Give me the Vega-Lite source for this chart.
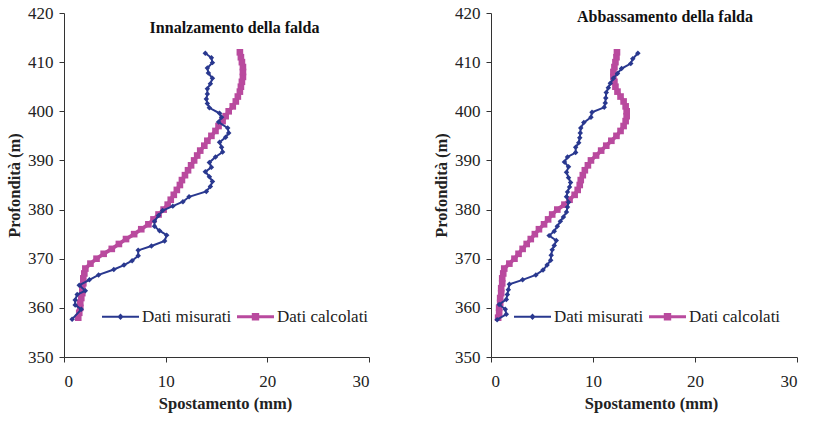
{
 "$schema": "https://vega.github.io/schema/vega-lite/v6.json",
 "background": "white",
 "padding": {"left": 6, "top": 4, "right": 3, "bottom": 5},
 "spacing": 63,
 "config": {
  "view": {"stroke": null},
  "axis": {"grid": false, "domainColor": "#333333", "tickColor": "#333333", "tickSize": 5, "labelFont": "Liberation Serif", "labelFontSize": 17, "labelColor": "#222222", "titleFont": "Liberation Serif", "titleFontSize": 16.5, "titleFontWeight": "bold", "titleColor": "#222222"},
  "legend": {"labelFont": "Liberation Serif", "labelFontSize": 17, "labelColor": "#222222"}
 },
 "resolve": {"scale": {"color": "independent", "shape": "independent"}, "legend": {"color": "independent", "shape": "independent"}},
 "data": {"values": [
  {"p":"L","s":"Dati misurati","d":411.8,"x":13.9},{"p":"L","s":"Dati misurati","d":410.9,"x":14.5},{"p":"L","s":"Dati misurati","d":409.9,"x":14.6},{"p":"L","s":"Dati misurati","d":408.8,"x":14.1},{"p":"L","s":"Dati misurati","d":407.8,"x":14.2},{"p":"L","s":"Dati misurati","d":406.7,"x":14.6},{"p":"L","s":"Dati misurati","d":405.6,"x":14.4},{"p":"L","s":"Dati misurati","d":404.6,"x":14.1},{"p":"L","s":"Dati misurati","d":403.5,"x":14.1},{"p":"L","s":"Dati misurati","d":402.5,"x":14.0},{"p":"L","s":"Dati misurati","d":401.6,"x":14.1},{"p":"L","s":"Dati misurati","d":400.7,"x":14.3},{"p":"L","s":"Dati misurati","d":399.6,"x":15.3},{"p":"L","s":"Dati misurati","d":398.8,"x":15.5},{"p":"L","s":"Dati misurati","d":397.8,"x":15.2},{"p":"L","s":"Dati misurati","d":396.6,"x":16.1},{"p":"L","s":"Dati misurati","d":395.6,"x":16.2},{"p":"L","s":"Dati misurati","d":394.7,"x":15.9},{"p":"L","s":"Dati misurati","d":393.7,"x":15.3},{"p":"L","s":"Dati misurati","d":392.7,"x":15.5},{"p":"L","s":"Dati misurati","d":391.7,"x":15.6},{"p":"L","s":"Dati misurati","d":390.7,"x":14.9},{"p":"L","s":"Dati misurati","d":389.6,"x":14.3},{"p":"L","s":"Dati misurati","d":388.6,"x":14.5},{"p":"L","s":"Dati misurati","d":387.7,"x":13.9},{"p":"L","s":"Dati misurati","d":386.7,"x":14.3},{"p":"L","s":"Dati misurati","d":385.7,"x":14.6},{"p":"L","s":"Dati misurati","d":384.7,"x":14.4},{"p":"L","s":"Dati misurati","d":383.7,"x":14.0},{"p":"L","s":"Dati misurati","d":382.6,"x":12.3},{"p":"L","s":"Dati misurati","d":381.6,"x":11.7},{"p":"L","s":"Dati misurati","d":380.7,"x":10.7},{"p":"L","s":"Dati misurati","d":379.8,"x":9.7},{"p":"L","s":"Dati misurati","d":378.8,"x":9.3},{"p":"L","s":"Dati misurati","d":377.6,"x":8.9},{"p":"L","s":"Dati misurati","d":376.6,"x":8.9},{"p":"L","s":"Dati misurati","d":375.7,"x":9.4},{"p":"L","s":"Dati misurati","d":374.8,"x":10.1},{"p":"L","s":"Dati misurati","d":373.6,"x":9.9},{"p":"L","s":"Dati misurati","d":372.6,"x":8.6},{"p":"L","s":"Dati misurati","d":371.7,"x":7.3},{"p":"L","s":"Dati misurati","d":370.6,"x":7.3},{"p":"L","s":"Dati misurati","d":369.6,"x":6.7},{"p":"L","s":"Dati misurati","d":368.7,"x":5.9},{"p":"L","s":"Dati misurati","d":367.8,"x":4.9},{"p":"L","s":"Dati misurati","d":366.7,"x":3.4},{"p":"L","s":"Dati misurati","d":365.7,"x":2.5},{"p":"L","s":"Dati misurati","d":364.6,"x":1.5},{"p":"L","s":"Dati misurati","d":363.5,"x":2.1},{"p":"L","s":"Dati misurati","d":362.7,"x":1.3},{"p":"L","s":"Dati misurati","d":361.6,"x":1.1},{"p":"L","s":"Dati misurati","d":360.6,"x":1.1},{"p":"L","s":"Dati misurati","d":359.7,"x":1.7},{"p":"L","s":"Dati misurati","d":357.7,"x":0.8},
  {"p":"L","s":"Dati calcolati","d":358,"x":1.4},{"p":"L","s":"Dati calcolati","d":359,"x":1.5},{"p":"L","s":"Dati calcolati","d":360,"x":1.6},{"p":"L","s":"Dati calcolati","d":361,"x":1.6},{"p":"L","s":"Dati calcolati","d":362,"x":1.7},{"p":"L","s":"Dati calcolati","d":363,"x":1.8},{"p":"L","s":"Dati calcolati","d":364,"x":1.8},{"p":"L","s":"Dati calcolati","d":365,"x":1.9},{"p":"L","s":"Dati calcolati","d":366,"x":1.9},{"p":"L","s":"Dati calcolati","d":367,"x":2.0},{"p":"L","s":"Dati calcolati","d":368,"x":2.1},{"p":"L","s":"Dati calcolati","d":369,"x":2.6},{"p":"L","s":"Dati calcolati","d":370,"x":3.2},{"p":"L","s":"Dati calcolati","d":371,"x":3.9},{"p":"L","s":"Dati calcolati","d":372,"x":4.7},{"p":"L","s":"Dati calcolati","d":373,"x":5.4},{"p":"L","s":"Dati calcolati","d":374,"x":6.1},{"p":"L","s":"Dati calcolati","d":375,"x":6.9},{"p":"L","s":"Dati calcolati","d":376,"x":7.6},{"p":"L","s":"Dati calcolati","d":377,"x":8.3},{"p":"L","s":"Dati calcolati","d":378,"x":8.8},{"p":"L","s":"Dati calcolati","d":379,"x":9.3},{"p":"L","s":"Dati calcolati","d":380,"x":9.8},{"p":"L","s":"Dati calcolati","d":381,"x":10.2},{"p":"L","s":"Dati calcolati","d":382,"x":10.5},{"p":"L","s":"Dati calcolati","d":383,"x":10.8},{"p":"L","s":"Dati calcolati","d":384,"x":11.1},{"p":"L","s":"Dati calcolati","d":385,"x":11.4},{"p":"L","s":"Dati calcolati","d":386,"x":11.6},{"p":"L","s":"Dati calcolati","d":387,"x":11.9},{"p":"L","s":"Dati calcolati","d":388,"x":12.2},{"p":"L","s":"Dati calcolati","d":389,"x":12.5},{"p":"L","s":"Dati calcolati","d":390,"x":12.8},{"p":"L","s":"Dati calcolati","d":391,"x":13.1},{"p":"L","s":"Dati calcolati","d":392,"x":13.4},{"p":"L","s":"Dati calcolati","d":393,"x":13.8},{"p":"L","s":"Dati calcolati","d":394,"x":14.1},{"p":"L","s":"Dati calcolati","d":395,"x":14.5},{"p":"L","s":"Dati calcolati","d":396,"x":14.9},{"p":"L","s":"Dati calcolati","d":397,"x":15.2},{"p":"L","s":"Dati calcolati","d":398,"x":15.6},{"p":"L","s":"Dati calcolati","d":399,"x":15.9},{"p":"L","s":"Dati calcolati","d":400,"x":16.2},{"p":"L","s":"Dati calcolati","d":401,"x":16.6},{"p":"L","s":"Dati calcolati","d":402,"x":16.9},{"p":"L","s":"Dati calcolati","d":403,"x":17.1},{"p":"L","s":"Dati calcolati","d":404,"x":17.3},{"p":"L","s":"Dati calcolati","d":405,"x":17.4},{"p":"L","s":"Dati calcolati","d":406,"x":17.5},{"p":"L","s":"Dati calcolati","d":407,"x":17.6},{"p":"L","s":"Dati calcolati","d":408,"x":17.6},{"p":"L","s":"Dati calcolati","d":409,"x":17.6},{"p":"L","s":"Dati calcolati","d":410,"x":17.5},{"p":"L","s":"Dati calcolati","d":411,"x":17.4},{"p":"L","s":"Dati calcolati","d":412,"x":17.3},
  {"p":"R","s":"Dati misurati","d":411.8,"x":14.4},{"p":"R","s":"Dati misurati","d":410.7,"x":13.9},{"p":"R","s":"Dati misurati","d":409.7,"x":13.7},{"p":"R","s":"Dati misurati","d":408.7,"x":12.8},{"p":"R","s":"Dati misurati","d":407.7,"x":12.4},{"p":"R","s":"Dati misurati","d":406.7,"x":12.0},{"p":"R","s":"Dati misurati","d":405.7,"x":11.7},{"p":"R","s":"Dati misurati","d":404.8,"x":11.5},{"p":"R","s":"Dati misurati","d":403.8,"x":11.3},{"p":"R","s":"Dati misurati","d":402.7,"x":11.25},{"p":"R","s":"Dati misurati","d":401.7,"x":11.2},{"p":"R","s":"Dati misurati","d":400.8,"x":11.1},{"p":"R","s":"Dati misurati","d":399.8,"x":9.9},{"p":"R","s":"Dati misurati","d":398.8,"x":9.8},{"p":"R","s":"Dati misurati","d":397.7,"x":9.1},{"p":"R","s":"Dati misurati","d":396.6,"x":8.8},{"p":"R","s":"Dati misurati","d":395.6,"x":8.75},{"p":"R","s":"Dati misurati","d":394.6,"x":8.7},{"p":"R","s":"Dati misurati","d":393.6,"x":8.6},{"p":"R","s":"Dati misurati","d":392.7,"x":8.3},{"p":"R","s":"Dati misurati","d":391.6,"x":8.3},{"p":"R","s":"Dati misurati","d":390.7,"x":7.5},{"p":"R","s":"Dati misurati","d":389.7,"x":7.2},{"p":"R","s":"Dati misurati","d":388.7,"x":7.6},{"p":"R","s":"Dati misurati","d":387.6,"x":7.4},{"p":"R","s":"Dati misurati","d":386.5,"x":7.6},{"p":"R","s":"Dati misurati","d":385.5,"x":7.8},{"p":"R","s":"Dati misurati","d":384.6,"x":7.7},{"p":"R","s":"Dati misurati","d":383.6,"x":7.5},{"p":"R","s":"Dati misurati","d":382.6,"x":7.4},{"p":"R","s":"Dati misurati","d":381.5,"x":7.6},{"p":"R","s":"Dati misurati","d":380.5,"x":7.5},{"p":"R","s":"Dati misurati","d":379.5,"x":7.4},{"p":"R","s":"Dati misurati","d":378.5,"x":7.1},{"p":"R","s":"Dati misurati","d":377.6,"x":6.8},{"p":"R","s":"Dati misurati","d":376.6,"x":6.5},{"p":"R","s":"Dati misurati","d":375.6,"x":6.2},{"p":"R","s":"Dati misurati","d":374.7,"x":5.7},{"p":"R","s":"Dati misurati","d":373.7,"x":6.4},{"p":"R","s":"Dati misurati","d":372.7,"x":6.2},{"p":"R","s":"Dati misurati","d":371.8,"x":6.0},{"p":"R","s":"Dati misurati","d":370.7,"x":5.9},{"p":"R","s":"Dati misurati","d":369.7,"x":5.85},{"p":"R","s":"Dati misurati","d":368.7,"x":5.5},{"p":"R","s":"Dati misurati","d":367.7,"x":5.1},{"p":"R","s":"Dati misurati","d":366.7,"x":4.4},{"p":"R","s":"Dati misurati","d":365.7,"x":3.1},{"p":"R","s":"Dati misurati","d":364.8,"x":1.8},{"p":"R","s":"Dati misurati","d":363.7,"x":1.7},{"p":"R","s":"Dati misurati","d":362.7,"x":1.6},{"p":"R","s":"Dati misurati","d":361.7,"x":1.5},{"p":"R","s":"Dati misurati","d":360.7,"x":0.8},{"p":"R","s":"Dati misurati","d":359.7,"x":1.4},{"p":"R","s":"Dati misurati","d":358.7,"x":1.5},{"p":"R","s":"Dati misurati","d":357.6,"x":0.6},
  {"p":"R","s":"Dati calcolati","d":358,"x":0.7},{"p":"R","s":"Dati calcolati","d":359,"x":0.8},{"p":"R","s":"Dati calcolati","d":360,"x":0.8},{"p":"R","s":"Dati calcolati","d":361,"x":0.9},{"p":"R","s":"Dati calcolati","d":362,"x":0.9},{"p":"R","s":"Dati calcolati","d":363,"x":1.0},{"p":"R","s":"Dati calcolati","d":364,"x":1.0},{"p":"R","s":"Dati calcolati","d":365,"x":1.1},{"p":"R","s":"Dati calcolati","d":366,"x":1.1},{"p":"R","s":"Dati calcolati","d":367,"x":1.2},{"p":"R","s":"Dati calcolati","d":368,"x":1.3},{"p":"R","s":"Dati calcolati","d":369,"x":1.8},{"p":"R","s":"Dati calcolati","d":370,"x":2.3},{"p":"R","s":"Dati calcolati","d":371,"x":2.7},{"p":"R","s":"Dati calcolati","d":372,"x":3.1},{"p":"R","s":"Dati calcolati","d":373,"x":3.5},{"p":"R","s":"Dati calcolati","d":374,"x":3.9},{"p":"R","s":"Dati calcolati","d":375,"x":4.3},{"p":"R","s":"Dati calcolati","d":376,"x":4.7},{"p":"R","s":"Dati calcolati","d":377,"x":5.2},{"p":"R","s":"Dati calcolati","d":378,"x":5.6},{"p":"R","s":"Dati calcolati","d":379,"x":6.0},{"p":"R","s":"Dati calcolati","d":380,"x":6.5},{"p":"R","s":"Dati calcolati","d":381,"x":7.2},{"p":"R","s":"Dati calcolati","d":382,"x":7.7},{"p":"R","s":"Dati calcolati","d":383,"x":8.2},{"p":"R","s":"Dati calcolati","d":384,"x":8.5},{"p":"R","s":"Dati calcolati","d":385,"x":8.7},{"p":"R","s":"Dati calcolati","d":386,"x":8.8},{"p":"R","s":"Dati calcolati","d":387,"x":9.0},{"p":"R","s":"Dati calcolati","d":388,"x":9.2},{"p":"R","s":"Dati calcolati","d":389,"x":9.5},{"p":"R","s":"Dati calcolati","d":390,"x":9.8},{"p":"R","s":"Dati calcolati","d":391,"x":10.3},{"p":"R","s":"Dati calcolati","d":392,"x":10.8},{"p":"R","s":"Dati calcolati","d":393,"x":11.3},{"p":"R","s":"Dati calcolati","d":394,"x":11.8},{"p":"R","s":"Dati calcolati","d":395,"x":12.3},{"p":"R","s":"Dati calcolati","d":396,"x":12.7},{"p":"R","s":"Dati calcolati","d":397,"x":13.0},{"p":"R","s":"Dati calcolati","d":398,"x":13.2},{"p":"R","s":"Dati calcolati","d":399,"x":13.3},{"p":"R","s":"Dati calcolati","d":400,"x":13.3},{"p":"R","s":"Dati calcolati","d":401,"x":13.2},{"p":"R","s":"Dati calcolati","d":402,"x":13.0},{"p":"R","s":"Dati calcolati","d":403,"x":12.7},{"p":"R","s":"Dati calcolati","d":404,"x":12.4},{"p":"R","s":"Dati calcolati","d":405,"x":12.2},{"p":"R","s":"Dati calcolati","d":406,"x":12.1},{"p":"R","s":"Dati calcolati","d":407,"x":12.0},{"p":"R","s":"Dati calcolati","d":408,"x":12.0},{"p":"R","s":"Dati calcolati","d":409,"x":12.1},{"p":"R","s":"Dati calcolati","d":410,"x":12.2},{"p":"R","s":"Dati calcolati","d":411,"x":12.3},{"p":"R","s":"Dati calcolati","d":412,"x":12.35}
 ]},
 "hconcat": [
  {
   "width": 305, "height": 344,
   "transform": [{"filter": "datum.p === 'L'"}],
   "title": {"text": "Innalzamento della falda", "font": "Liberation Serif", "fontSize": 16, "fontWeight": "bold", "color": "#111111", "anchor": "middle", "dx": 18, "dy": 36},
   "encoding": {
    "x": {"field": "x", "type": "quantitative", "scale": {"domain": [0, 30], "nice": false}, "axis": {"values": [0, 10, 20, 30], "title": "Spostamento (mm)", "titlePadding": 6, "labelPadding": 11, "titleX": 161}},
    "y": {"field": "d", "type": "quantitative", "scale": {"domain": [350, 420], "nice": false, "zero": false}, "axis": {"values": [350, 360, 370, 380, 390, 400, 410, 420], "title": "Profondità (m)", "titlePadding": 5, "labelPadding": 6}}
   },
   "layer": [
    {"transform": [{"filter": "datum.s === 'Dati calcolati'"}], "mark": {"type": "line", "color": "#b94a9e", "strokeWidth": 3.8}, "encoding": {"order": {"field": "d", "type": "quantitative"}}},
    {"transform": [{"filter": "datum.s === 'Dati calcolati'"}], "mark": {"type": "point", "shape": "square", "filled": true, "color": "#b94a9e", "size": 44, "opacity": 1}},
    {"transform": [{"filter": "datum.s === 'Dati misurati'"}], "mark": {"type": "line", "color": "#29388f", "strokeWidth": 2}, "encoding": {"order": {"field": "d", "type": "quantitative"}}},
    {"transform": [{"filter": "datum.s === 'Dati misurati'"}], "mark": {"type": "point", "shape": "diamond", "filled": true, "color": "#29388f", "size": 30, "opacity": 1}},
    {"transform": [{"filter": "false"}], "mark": {"type": "point", "filled": true, "opacity": 1},
     "encoding": {
      "color": {"field": "s", "type": "nominal", "scale": {"domain": ["Dati misurati", "Dati calcolati"], "range": ["#29388f", "#b94a9e"]}, "legend": {"orient": "none", "legendX": 38, "legendY": 285, "direction": "horizontal", "title": null, "symbolSize": 1369, "symbolStrokeWidth": 0, "columnPadding": 5, "labelOffset": 3}},
      "shape": {"field": "s", "type": "nominal", "scale": {"domain": ["Dati misurati", "Dati calcolati"], "range": ["M-1,-0.055L1,-0.055L1,0.055L-1,0.055Z M0,-0.17L0.17,0L0,0.17L-0.17,0Z", "M-1,-0.08L1,-0.08L1,0.08L-1,0.08Z M-0.2,-0.2L0.2,-0.2L0.2,0.2L-0.2,0.2Z"]}}
     }}
   ]
  },
  {
   "width": 306, "height": 344,
   "transform": [{"filter": "datum.p === 'R'"}],
   "title": {"text": "Abbassamento della falda", "font": "Liberation Serif", "fontSize": 16, "fontWeight": "bold", "color": "#111111", "anchor": "middle", "dx": 21, "dy": 25},
   "encoding": {
    "x": {"field": "x", "type": "quantitative", "scale": {"domain": [0, 30], "nice": false}, "axis": {"values": [0, 10, 20, 30], "title": "Spostamento (mm)", "titlePadding": 6, "labelPadding": 11, "titleX": 160}},
    "y": {"field": "d", "type": "quantitative", "scale": {"domain": [350, 420], "nice": false, "zero": false}, "axis": {"values": [350, 360, 370, 380, 390, 400, 410, 420], "title": "Profondità (m)", "titlePadding": 5, "labelPadding": 6}}
   },
   "layer": [
    {"transform": [{"filter": "datum.s === 'Dati calcolati'"}], "mark": {"type": "line", "color": "#b94a9e", "strokeWidth": 3.8}, "encoding": {"order": {"field": "d", "type": "quantitative"}}},
    {"transform": [{"filter": "datum.s === 'Dati calcolati'"}], "mark": {"type": "point", "shape": "square", "filled": true, "color": "#b94a9e", "size": 44, "opacity": 1}},
    {"transform": [{"filter": "datum.s === 'Dati misurati'"}], "mark": {"type": "line", "color": "#29388f", "strokeWidth": 2}, "encoding": {"order": {"field": "d", "type": "quantitative"}}},
    {"transform": [{"filter": "datum.s === 'Dati misurati'"}], "mark": {"type": "point", "shape": "diamond", "filled": true, "color": "#29388f", "size": 30, "opacity": 1}},
    {"transform": [{"filter": "false"}], "mark": {"type": "point", "filled": true, "opacity": 1},
     "encoding": {
      "color": {"field": "s", "type": "nominal", "scale": {"domain": ["Dati misurati", "Dati calcolati"], "range": ["#29388f", "#b94a9e"]}, "legend": {"orient": "none", "legendX": 23, "legendY": 285, "direction": "horizontal", "title": null, "symbolSize": 1369, "symbolStrokeWidth": 0, "columnPadding": 5, "labelOffset": 3}},
      "shape": {"field": "s", "type": "nominal", "scale": {"domain": ["Dati misurati", "Dati calcolati"], "range": ["M-1,-0.055L1,-0.055L1,0.055L-1,0.055Z M0,-0.17L0.17,0L0,0.17L-0.17,0Z", "M-1,-0.08L1,-0.08L1,0.08L-1,0.08Z M-0.2,-0.2L0.2,-0.2L0.2,0.2L-0.2,0.2Z"]}}
     }}
   ]
  }
 ]
}
